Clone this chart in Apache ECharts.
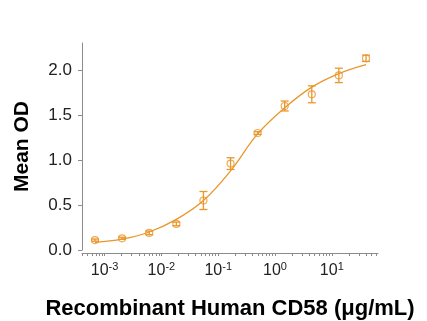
<!DOCTYPE html>
<html>
<head>
<meta charset="utf-8">
<script src="https://cdn.jsdelivr.net/npm/echarts@6/dist/echarts.min.js"></script>
<style>
  html, body { margin: 0; padding: 0; background: #fff; }
  #chart { width: 427px; height: 321px; }
</style>
</head>
<body>
<div id="chart"></div>
<script>
// concentration (ug/mL), 3-fold dilution series
var conc = [0.000677, 0.00203, 0.0061, 0.0183, 0.0549, 0.165, 0.494, 1.48, 4.44, 13.3, 40]
// mean OD
var meanOD = [0.11, 0.13, 0.19, 0.29, 0.55, 0.96, 1.30, 1.60, 1.73, 1.94, 2.13]
// error (+/-)
var errOD = [0.012, 0.012, 0.02, 0.02, 0.10, 0.065, 0.015, 0.055, 0.094, 0.08, 0.035]
// fitted curve at each concentration
var fitOD = [0.085, 0.12, 0.20, 0.34, 0.55, 0.88, 1.29, 1.58, 1.81, 1.96, 2.06]
// x tick labels (powers of ten)
var xLabelExp = [-3, -2, -1, 0, 1]
var yLabels = [0, 0.5, 1.0, 1.5, 2.0]

var orange = '#E9962B'
var font = "'Liberation Sans', Arial, sans-serif"

var xMin = 4e-4, xMax = 65
var lg = function (v) { return Math.log10(v) }

// minor tick positions 1..9 x 10^n
var xTicks = []
for (var d = -4; d <= 1; d++) {
  for (var k = 1; k <= 9; k++) {
    var v = k * Math.pow(10, d)
    if (v >= xMin && v <= xMax) xTicks.push(lg(v))
  }
}

var points = conc.map(function (c, i) { return [lg(c), meanOD[i]] })
var fitLine = conc.map(function (c, i) { return [lg(c), fitOD[i]] })
var errData = conc.map(function (c, i) { return [lg(c), meanOD[i] - errOD[i], meanOD[i] + errOD[i]] })

var myChart = echarts.init(document.getElementById('chart'))
var option = {
  backgroundColor: '#fff',
  animation: false,
  grid: { left: 82, top: 43, width: 296, height: 207, containLabel: false, outerBoundsMode: 'none' },
  xAxis: {
    type: 'value',
    min: lg(xMin),
    max: lg(xMax),
    offset: 3,
    name: 'Recombinant Human CD58 (\u03bcg/mL)',
    nameLocation: 'middle',
    nameGap: 45,
    nameTextStyle: { fontFamily: font, fontSize: 22, fontWeight: 'bold', color: '#000' },
    axisLine: { onZero: false, lineStyle: { color: '#8c8c8c', width: 1 } },
    axisTick: { show: true, length: 3, customValues: xTicks, lineStyle: { color: '#8c8c8c' } },
    splitLine: { show: false },
    axisLabel: {
      customValues: xLabelExp,
      margin: 8,
      formatter: function (v) { return '{b|10}{s|' + Math.round(v) + '}' },
      rich: {
        b: { fontFamily: font, fontSize: 16, color: '#222' },
        s: { fontFamily: font, fontSize: 11, color: '#222', padding: [0, 0, 9, 0] }
      }
    }
  },
  yAxis: {
    type: 'value',
    min: 0,
    max: 2.3,
    name: 'Mean OD',
    nameLocation: 'middle',
    nameRotate: 90,
    nameGap: 49,
    nameTextStyle: { fontFamily: font, fontSize: 21, fontWeight: 'bold', color: '#000' },
    axisLine: { show: true, onZero: false, lineStyle: { color: '#8c8c8c', width: 1 } },
    axisTick: { show: true, length: 4, customValues: yLabels, lineStyle: { color: '#8c8c8c' } },
    splitLine: { show: false },
    axisLabel: {
      customValues: yLabels,
      margin: 10,
      fontFamily: font,
      fontSize: 17,
      color: '#222',
      formatter: function (v) { return v.toFixed(1) }
    }
  },
  series: [
    {
      name: 'fit',
      type: 'line',
      data: fitLine,
      smooth: 0.4,
      showSymbol: false,
      lineStyle: { color: orange, width: 1.3 }
    },
    {
      name: 'error',
      type: 'custom',
      data: errData,
      renderItem: function (params, api) {
        var lo = api.coord([api.value(0), api.value(1)])
        var hi = api.coord([api.value(0), api.value(2)])
        var w = 4
        var st = { stroke: orange, lineWidth: 1.3 }
        return {
          type: 'group',
          children: [
            { type: 'line', shape: { x1: lo[0], y1: lo[1], x2: hi[0], y2: hi[1] }, style: st },
            { type: 'line', shape: { x1: lo[0] - w, y1: lo[1], x2: lo[0] + w, y2: lo[1] }, style: st },
            { type: 'line', shape: { x1: hi[0] - w, y1: hi[1], x2: hi[0] + w, y2: hi[1] }, style: st }
          ]
        }
      },
      z: 3
    },
    {
      name: 'Mean OD',
      type: 'scatter',
      data: points,
      symbol: 'circle',
      symbolSize: 7,
      itemStyle: { color: 'rgba(255,255,255,0)', borderColor: orange, borderWidth: 1.2 },
      z: 4
    }
  ]
}
myChart.setOption(option)
window.addEventListener('resize', function () { myChart.resize() })
</script>
</body>
</html>
